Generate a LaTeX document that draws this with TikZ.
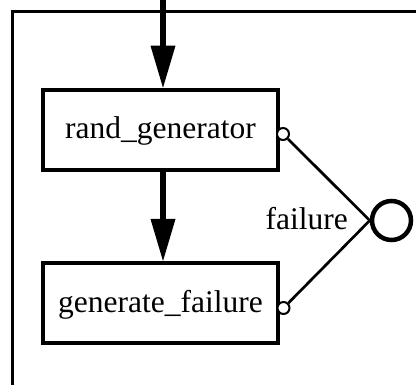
\documentclass[tikz,border=0pt]{standalone}
\usepackage{fontspec}
\setmainfont{Liberation Serif}
\usetikzlibrary{arrows.meta}
\begin{document}
\begin{tikzpicture}[x=1pt,y=-1pt,
  boxnode/.style={draw,line width=4.5pt,rectangle,minimum width=235pt,minimum height=80pt,
    inner sep=0pt,text height=22pt,text depth=4pt,font=\fontsize{31.5}{37}\selectfont},
  portnode/.style={draw,circle,line width=2pt,fill=white,minimum size=12pt,inner sep=0pt},
  bigport/.style={draw,circle,line width=4.5pt,fill=white,minimum size=39pt,inner sep=0pt},
  flow/.style={line width=6.5pt,-{Triangle[length=42pt,width=25pt,line width=0pt]}},
  link/.style={line width=2.7pt},
  frame/.style={line width=2.2pt}]
\useasboundingbox (0,0) rectangle (416,385);
\clip (0,0) rectangle (416,385);
\fill[white] (0,0) rectangle (416,385);
\draw[frame] (430,11.5) -- (12.5,11.5) -- (12.5,400);
\node[boxnode] (rg) at (160.5,130) {rand\_generator};
\node[boxnode] (gf) at (160.5,303.25) {generate\_failure};
\coordinate (top) at (163,0);
\draw[flow] (top) -- (rg.north -| top);
\draw[flow] (rg.south -| top) -- (gf.north -| top);
\node[bigport] (fail) at (391.5,220.5) {};
\node[portnode] (p1) at (283,134) {};
\node[portnode] (p2) at (283.5,308) {};
\draw[link] (p1) -- (fail.west);
\draw[link] (p2) -- (fail.west);
\node[anchor=base east,inner sep=0pt,font=\fontsize{31.5}{37}\selectfont] (lbl) at (348,230) {failure};
\end{tikzpicture}
\end{document}
